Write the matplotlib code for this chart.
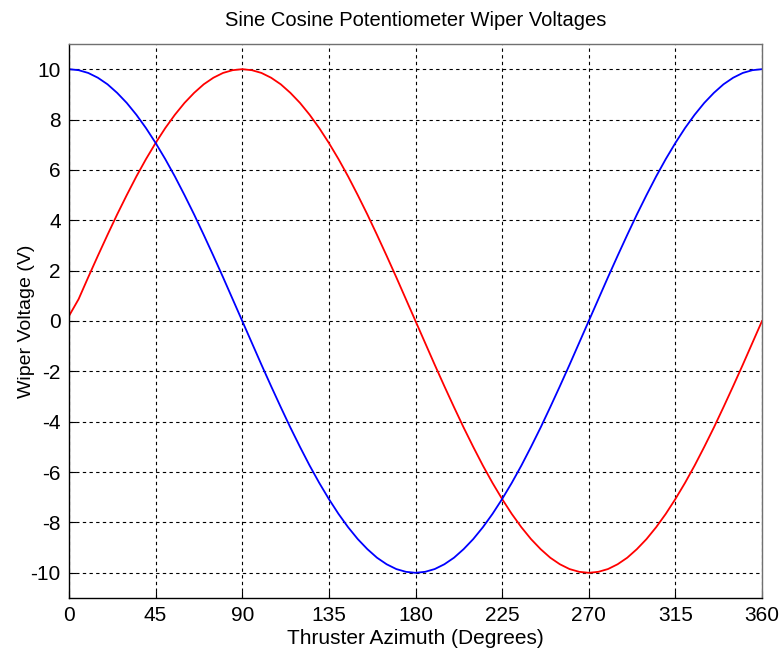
import matplotlib
matplotlib.use('Agg')
import matplotlib.pyplot as plt

plt.rcParams['font.family'] = ['Liberation Sans', 'DejaVu Sans']
plt.rcParams['axes.unicode_minus'] = False

# azimuth in degrees, read every 5 degrees
azimuth = list(range(0, 365, 5))

sine_v = [0.2, 0.87, 1.74, 2.59, 3.42, 4.23, 5.00, 5.74, 6.43, 7.07,
          7.66, 8.19, 8.66, 9.06, 9.40, 9.66, 9.85, 9.96, 10.0,
          9.96, 9.85, 9.66, 9.40, 9.06, 8.66, 8.19, 7.66, 7.07,
          6.43, 5.74, 5.00, 4.23, 3.42, 2.59, 1.74, 0.87, 0.0,
          -0.87, -1.74, -2.59, -3.42, -4.23, -5.00, -5.74, -6.43, -7.07,
          -7.66, -8.19, -8.66, -9.06, -9.40, -9.66, -9.85, -9.96, -10.0,
          -9.96, -9.85, -9.66, -9.40, -9.06, -8.66, -8.19, -7.66, -7.07,
          -6.43, -5.74, -5.00, -4.23, -3.42, -2.59, -1.74, -0.87, 0.0]

cosine_v = [10.0, 9.96, 9.85, 9.66, 9.40, 9.06, 8.66, 8.19, 7.66, 7.07,
            6.43, 5.74, 5.00, 4.23, 3.42, 2.59, 1.74, 0.87, 0.0,
            -0.87, -1.74, -2.59, -3.42, -4.23, -5.00, -5.74, -6.43, -7.07,
            -7.66, -8.19, -8.66, -9.06, -9.40, -9.66, -9.85, -9.96, -10.0,
            -9.96, -9.85, -9.66, -9.40, -9.06, -8.66, -8.19, -7.66, -7.07,
            -6.43, -5.74, -5.00, -4.23, -3.42, -2.59, -1.74, -0.87, 0.0,
            0.87, 1.74, 2.59, 3.42, 4.23, 5.00, 5.74, 6.43, 7.07,
            7.66, 8.19, 8.66, 9.06, 9.40, 9.66, 9.85, 9.96, 10.0]

x_ticks = list(range(0, 361, 45))
y_ticks = list(range(-10, 11, 2))

fig = plt.figure(figsize=(7.81, 6.53), dpi=100)
ax = fig.add_axes([69 / 781, 55 / 653, 693 / 781, 554 / 653])

ax.plot(azimuth, sine_v, color='red', lw=1.3)
ax.plot(azimuth, cosine_v, color='blue', lw=1.3)

ax.set_xlim(0, 360)
ax.set_ylim(-11, 11)
ax.set_xticks(x_ticks)
ax.set_yticks(y_ticks)
ax.tick_params(direction='in', labelsize=15, length=5, pad=6)
ax.grid(True, color='black', linestyle=(0, (3, 3)), linewidth=0.8)
for s in ax.spines.values():
    s.set_linewidth(1.0)
ax.spines['top'].set_color('#707070')
ax.spines['right'].set_color('#707070')

ax.set_title('Sine Cosine Potentiometer Wiper Voltages', fontsize=14.5, pad=13)
ax.set_xlabel('Thruster Azimuth (Degrees)', fontsize=15, labelpad=3)
ax.set_ylabel('Wiper Voltage (V)', fontsize=14)
ax.yaxis.set_label_coords(-0.049, 0.5)

fig.savefig('out.png', dpi=100)
